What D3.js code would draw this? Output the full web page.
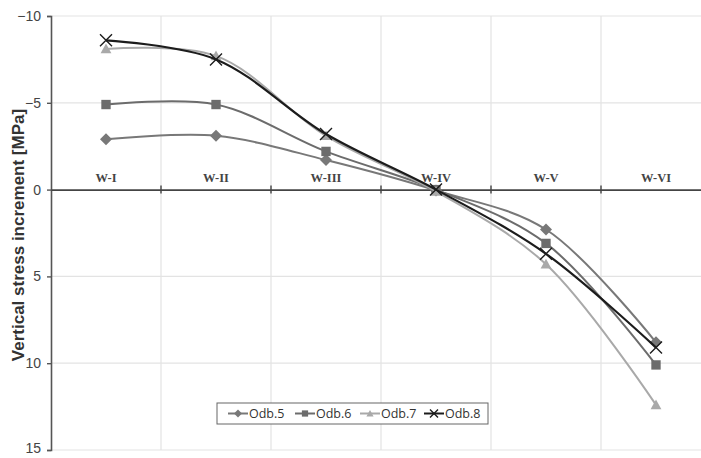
<!DOCTYPE html>
<html><head><meta charset="utf-8">
<script src="https://cdn.jsdelivr.net/npm/d3@7"></script>
<style>body{margin:0;background:#fff}svg{display:block}</style>
</head><body>
<svg id="c" width="701" height="458"></svg>
<script>
const categories = ["W-I","W-II","W-III","W-IV","W-V","W-VI"];
const odb5 = [-2.9,-3.1,-1.7,0.05,2.3,8.8];
const odb6 = [-4.9,-4.9,-2.2,0.0,3.1,10.1];
const odb7 = [-8.1,-7.7,-3.1,0.1,4.3,12.4];
const odb8 = [-8.6,-7.5,-3.2,0.0,3.7,9.1];
const seriesNames = ["Odb.5","Odb.6","Odb.7","Odb.8"];
const yTicks = [-10,-5,0,5,10,15];

(function(){
const series = [
  {name:seriesNames[0], values:odb5, color:"#787878", marker:"diamond"},
  {name:seriesNames[1], values:odb6, color:"#6c6c6c", marker:"square"},
  {name:seriesNames[2], values:odb7, color:"#a9a9a9", marker:"triangle"},
  {name:seriesNames[3], values:odb8, color:"#1c1c1c", marker:"cross"}
];

const svg = d3.select("#c");
const pL = 51, pR = 711, pT = 16, pB = 450;
const x = d3.scaleBand().domain(categories).range([pL,pR]).padding(0);
const y = d3.scaleLinear().domain([-10,15]).range([pT,pB]);
const cx = d => x(d) + x.bandwidth()/2;

// grid
const g = svg.append("g");
g.selectAll(".hg").data(yTicks.filter(t=>t!==0)).enter().append("line")
  .attr("x1",pL).attr("x2",701).attr("y1",d=>y(d)).attr("y2",d=>y(d))
  .attr("stroke","#e3e3e3").attr("stroke-width",1.2);
g.selectAll(".vg").data(categories.slice(1)).enter().append("line")
  .attr("x1",d=>x(d)).attr("x2",d=>x(d)).attr("y1",pT).attr("y2",pB)
  .attr("stroke","#e3e3e3").attr("stroke-width",1.2);

// y axis
const yAxis = d3.axisLeft(y).tickValues(yTicks).tickSize(4).tickPadding(6).tickFormat(d3.format("d"));
const ya = svg.append("g").attr("transform",`translate(${pL},0)`).call(yAxis);
ya.select(".domain").attr("stroke","#555").attr("stroke-width",1.6);
ya.selectAll(".tick line").attr("stroke","#555").attr("stroke-width",1.4);
ya.selectAll(".tick text").attr("font-family","Liberation Sans, Arial, sans-serif").attr("font-size",14).attr("fill","#444");
ya.selectAll(".tick text").filter(d=>d===15).attr("dy","0.2em");

// x axis at zero
const xAxis = d3.axisBottom(x).tickValues(categories.slice(1)).tickSize(0).tickFormat("");
const xa = svg.append("g").attr("transform",`translate(0,${y(0)})`).call(xAxis);
xa.select(".domain").attr("stroke","#444").attr("stroke-width",1.6);
svg.append("g").selectAll("line").data(categories.slice(1)).enter().append("line")
  .attr("x1",d=>x(d)).attr("x2",d=>x(d)).attr("y1",y(0)-4).attr("y2",y(0)+4)
  .attr("stroke","#444").attr("stroke-width",1.4);

// category labels
svg.append("g").selectAll("text").data(categories).enter().append("text")
  .attr("x",d=>cx(d)).attr("y",y(0)-8).attr("text-anchor","middle")
  .attr("font-family","Liberation Serif, Times New Roman, serif").attr("font-size",12.5)
  .attr("font-weight","bold").attr("fill","#444").text(d=>d);

// axis title
svg.append("text").attr("transform",`translate(24,235) rotate(-90)`)
  .attr("text-anchor","middle").attr("font-family","Liberation Sans, Arial, sans-serif")
  .attr("font-weight","bold").attr("font-size",17).attr("fill","#333")
  .text("Vertical stress increment [MPa]");

const line = d3.line().x((d,i)=>cx(categories[i])).y(d=>y(d)).curve(d3.curveCatmullRom.alpha(0.5));

function drawMarker(sel, type, color, size){
  const h = size/2;
  if(type==="diamond"){
    sel.append("path").attr("d",`M0,${-h}L${h},0L0,${h}L${-h},0Z`).attr("fill",color);
  } else if(type==="square"){
    const q = h*0.78;
    sel.append("path").attr("d",`M${-q},${-q}H${q}V${q}H${-q}Z`).attr("fill",color);
  } else if(type==="triangle"){
    const t = h*0.9;
    sel.append("path").attr("d",`M0,${-t}L${t},${t*0.8}L${-t},${t*0.8}Z`).attr("fill",color);
  } else {
    sel.append("path").attr("d",`M${-h},${-h}L${h},${h}M${-h},${h}L${h},${-h}`).attr("stroke",color).attr("stroke-width",1.4).attr("fill","none");
  }
}

const plot = svg.append("g");
series.forEach(s=>{
  plot.append("path").datum(s.values).attr("d",line).attr("fill","none")
    .attr("stroke",s.color).attr("stroke-width",s.marker==="cross"?2.2:2);
  s.values.forEach((v,i)=>{
    const m = plot.append("g").attr("transform",`translate(${cx(categories[i])},${y(v)})`);
    drawMarker(m, s.marker, s.color, 12);
  });
});

// legend
const lg = svg.append("g").attr("transform","translate(217,403)");
lg.append("rect").attr("width",271).attr("height",21).attr("fill","#fff").attr("stroke","#666").attr("stroke-width",1);
const lx = [11,78,143,207];
series.forEach((s,i)=>{
  const it = lg.append("g").attr("transform",`translate(${lx[i]},10.5)`);
  it.append("line").attr("x1",0).attr("x2",20).attr("stroke",s.color).attr("stroke-width",2);
  const m = it.append("g").attr("transform","translate(10,0)");
  drawMarker(m, s.marker, s.color, 8);
  it.append("text").attr("x",21).attr("y",4.5).attr("font-family","Open Sans, Liberation Sans, sans-serif")
    .attr("font-size",12.5).attr("fill","#333").text(s.name);
});
})();
</script>
</body></html>
